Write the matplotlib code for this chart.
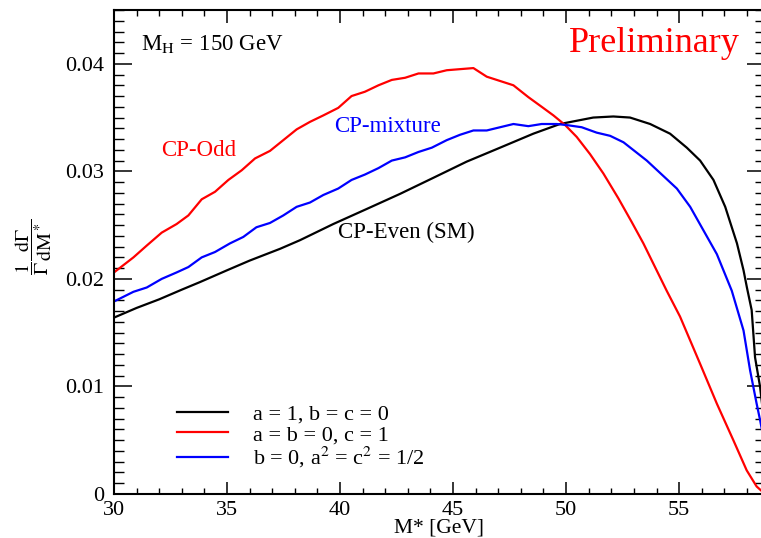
import matplotlib
matplotlib.use("Agg")
import matplotlib.pyplot as plt
from matplotlib.ticker import MultipleLocator

plt.rcParams['font.family'] = ['Liberation Serif', 'DejaVu Serif']
plt.rcParams['mathtext.fontset'] = 'stix'

# CP-Even (SM): a = 1, b = c = 0
even_x = [30.0, 31.0, 32.0, 33.0, 33.8, 35.0, 36.0, 37.35, 38.23, 39.7, 41.18, 42.65,
          44.13, 45.6, 47.08, 48.55, 49.73, 51.2, 52.09, 52.83, 53.72, 54.6, 55.34,
          55.93, 56.52, 57.04, 57.56, 57.85, 58.0, 58.21, 58.36, 58.58, 58.8]
even_y = [0.0164, 0.0173, 0.0181, 0.0190, 0.0197, 0.0208, 0.0217, 0.0228, 0.0236, 0.0251,
          0.0265, 0.0279, 0.0294, 0.0309, 0.0322, 0.0335, 0.0344, 0.0350, 0.0351, 0.0350,
          0.0344, 0.0335, 0.0322, 0.0310, 0.0292, 0.0267, 0.0233, 0.0208, 0.0192, 0.0171,
          0.0127, 0.0100, 0.0060]

# CP-Odd: a = b = 0, c = 1
odd_x = [30.0, 30.86, 31.45, 32.11, 32.77, 33.29, 33.88, 34.47, 35.06, 35.65, 36.24, 36.9,
         37.49, 38.08, 38.67, 39.26, 39.92, 40.51, 41.1, 41.7, 42.29, 42.88, 43.47, 44.13,
         44.72, 45.31, 45.9, 46.49, 47.08, 47.67, 48.33, 48.92, 49.44, 49.96, 50.47, 51.06,
         51.65, 52.31, 52.9, 53.42, 54.45, 55.04, 55.93, 56.67, 57.4, 57.99, 58.43, 58.8]
odd_y = [0.0206, 0.0220, 0.0231, 0.0243, 0.0251, 0.0259, 0.0274, 0.0281, 0.0292, 0.0301,
         0.0312, 0.0319, 0.0329, 0.0339, 0.0346, 0.0352, 0.0359, 0.0370, 0.0374, 0.0380,
         0.0385, 0.0387, 0.0391, 0.0391, 0.0394, 0.0395, 0.0396, 0.0388, 0.0384, 0.0380,
         0.0369, 0.0360, 0.0352, 0.0343, 0.0332, 0.0316, 0.0298, 0.0275, 0.0253, 0.0233,
         0.0189, 0.0165, 0.0121, 0.0084, 0.0050, 0.0022, 0.0007, 0.0000]

# CP-mixture: b = 0, a^2 = c^2 = 1/2
mix_x = [30.0, 30.86, 31.45, 32.11, 32.77, 33.29, 33.88, 34.47, 35.13, 35.72, 36.3, 36.9,
         37.49, 38.08, 38.67, 39.26, 39.92, 40.51, 41.1, 41.7, 42.29, 42.88, 43.47, 44.06,
         44.72, 45.31, 45.9, 46.49, 47.08, 47.67, 48.33, 48.92, 49.59, 50.03, 50.69, 51.35,
         51.95, 52.54, 53.57, 54.9, 55.49, 56.08, 56.67, 57.33, 57.85, 58.14, 58.43, 58.58, 58.8]
mix_y = [0.0179, 0.0188, 0.0192, 0.0200, 0.0206, 0.0211, 0.0220, 0.0225, 0.0233, 0.0239,
         0.0248, 0.0252, 0.0259, 0.0267, 0.0271, 0.0278, 0.0284, 0.0292, 0.0297, 0.0303,
         0.0310, 0.0313, 0.0318, 0.0322, 0.0329, 0.0334, 0.0338, 0.0338, 0.0341, 0.0344,
         0.0342, 0.0344, 0.0344, 0.0343, 0.0341, 0.0336, 0.0333, 0.0327, 0.0310, 0.0284,
         0.0267, 0.0245, 0.0223, 0.0189, 0.0152, 0.0115, 0.0084, 0.0069, 0.0045]

legend_labels = [r"a = 1, b = c = 0", r"a = b = 0, c = 1", r"b = 0, a$^2$ = c$^2$ = 1/2"]
x_ticks = [30, 35, 40, 45, 50, 55]
x_tick_labels = ["30", "35", "40", "45", "50", "55"]
y_ticks = [0, 0.01, 0.02, 0.03, 0.04]
y_tick_labels = ["0", "0.01", "0.02", "0.03", "0.04"]

fig = plt.figure(figsize=(7.61, 5.38), dpi=100)
ax = fig.add_axes([114/761, 1 - 494/538, (765 - 114)/761, (494 - 10)/538])

lw = 1.6
ax.plot(even_x, even_y, color='black', lw=lw, label=legend_labels[0])
ax.plot(odd_x, odd_y, color='#ff0000', lw=lw, label=legend_labels[1])
ax.plot(mix_x, mix_y, color='#0000ff', lw=lw, label=legend_labels[2])

ax.set_xlim(30, 58.8)
ax.set_ylim(0, 0.045)
ax.xaxis.set_minor_locator(MultipleLocator(1))
ax.yaxis.set_minor_locator(MultipleLocator(0.001))
ax.set_yticks(y_ticks)
ax.set_yticklabels(y_tick_labels)
ax.set_xticks(x_ticks)
ax.set_xticklabels(x_tick_labels)

ax.tick_params(axis='x', which='major', direction='in', top=True, bottom=True,
               length=9, width=1.1, labelsize=16, pad=5)
ax.tick_params(axis='x', which='minor', direction='in', top=True, bottom=True,
               length=4.5, width=1.0)
ax.tick_params(axis='y', which='major', direction='in', left=True, right=True,
               length=13, width=1.1, labelsize=16, pad=7)
ax.tick_params(axis='y', which='minor', direction='in', left=True, right=True,
               length=7.5, width=1.0)
for s in ax.spines.values():
    s.set_linewidth(1.5)

ax.set_xlabel("M* [GeV]", fontsize=15.5, labelpad=-1)
ax.text(-0.124, 0.51, r"$\dfrac{1}{\Gamma}\dfrac{\mathrm{d}\Gamma}{\mathrm{dM}^*}$",
        transform=ax.transAxes, rotation=90, fontsize=14.5, ha='center', va='center')

ax.text(31.2, 0.0418, r"M$_\mathrm{H}$ = 150 GeV", fontsize=16.5, ha='left', va='center')
ax.text(57.7, 0.0419, "Preliminary", fontsize=26, color='#ff0000', ha='right', va='center')
ax.text(32.1, 0.0319, "CP-Odd", fontsize=16.5, color='#ff0000', ha='left', va='center')
ax.text(39.75, 0.0342, "CP-mixture", fontsize=16.5, color='#0000ff', ha='left', va='center')
ax.text(39.9, 0.0243, "CP-Even (SM)", fontsize=16.5, color='black', ha='left', va='center')

leg = ax.legend(loc='upper left', bbox_to_anchor=((177 - 114)/651, (494 - 404)/484),
                frameon=False, fontsize=16, handlelength=2.3, handletextpad=1.1,
                labelspacing=0.0, borderpad=0, borderaxespad=0)

fig.savefig("out.png", dpi=100)
